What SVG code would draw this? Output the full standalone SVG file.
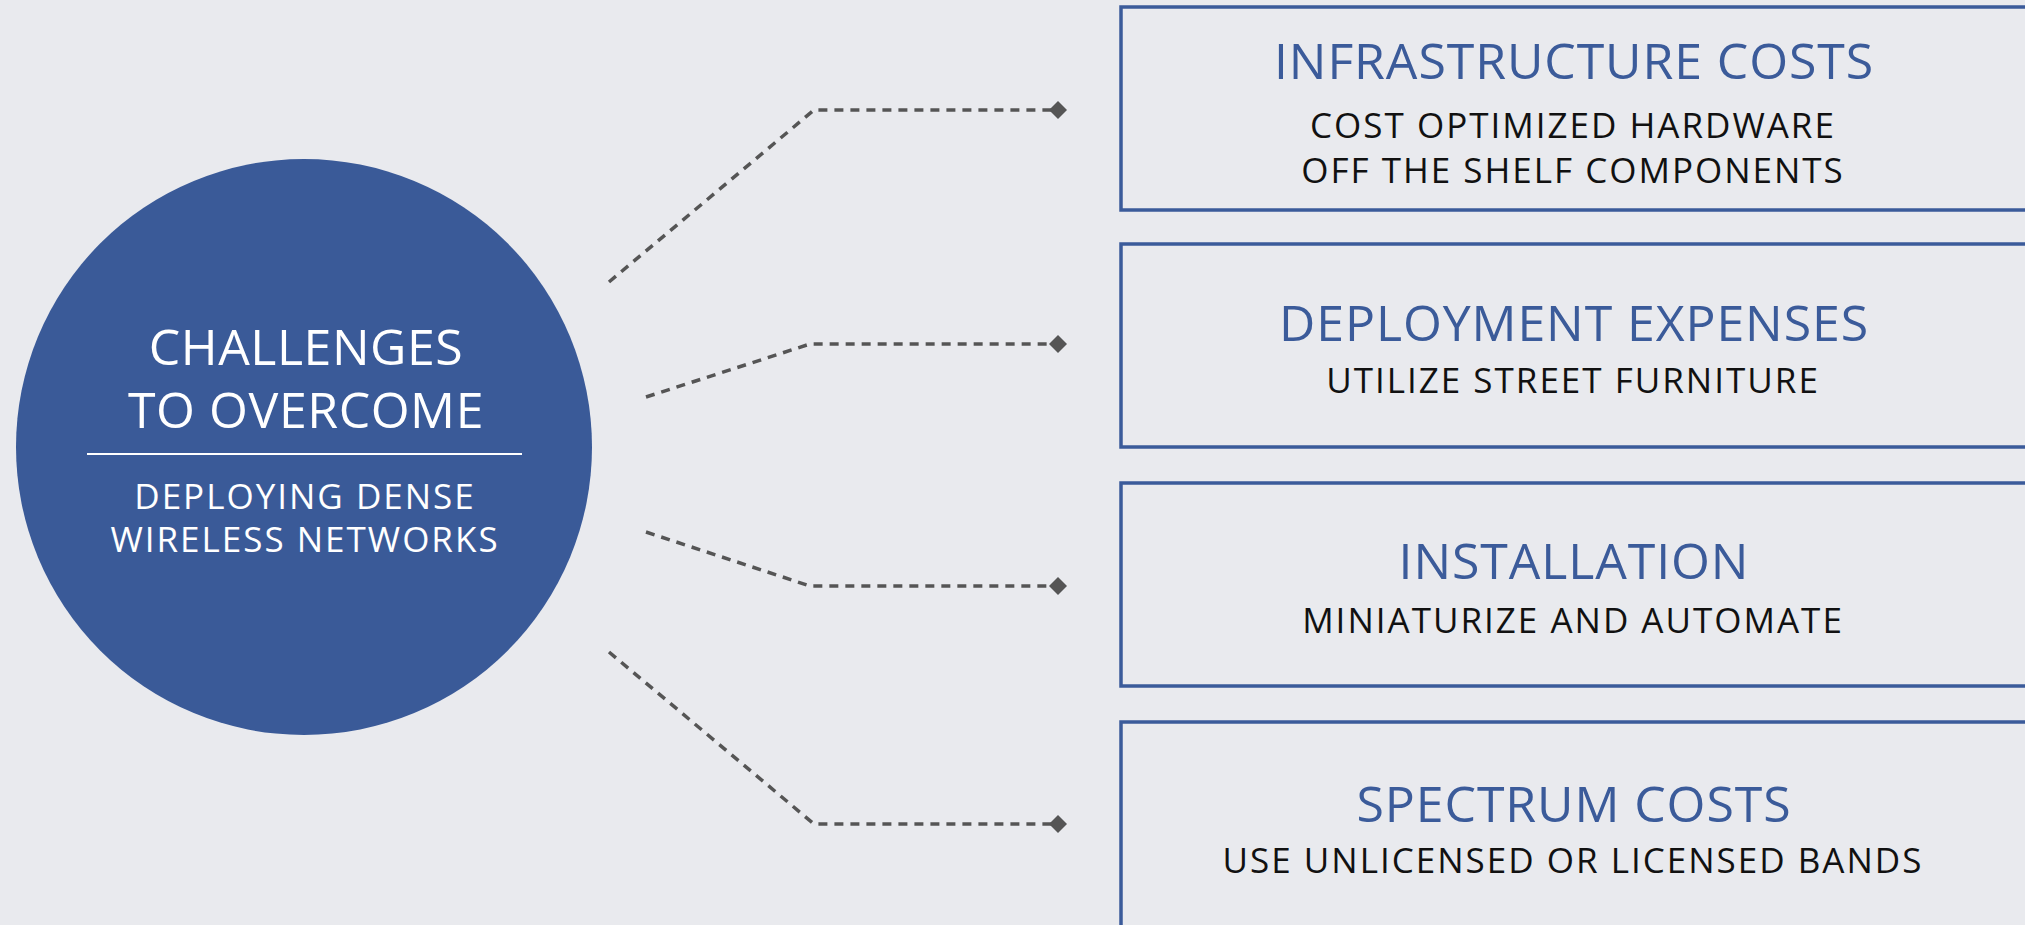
<svg xmlns="http://www.w3.org/2000/svg" width="2025" height="925" viewBox="0 0 2025 925">
<style>
.bg{fill:#E9EAEE}
.box{fill:none;stroke:#3B5B9A;stroke-width:3.5}
.title{font-family:"Open Sans","Noto Sans",sans-serif;font-size:50px;letter-spacing:0.9px;fill:#3B5B9A;text-anchor:middle}
.sub{font-family:"Open Sans","Noto Sans",sans-serif;font-size:35px;letter-spacing:2px;fill:#111;text-anchor:middle}
.ctitle{font-family:"Open Sans","Noto Sans",sans-serif;font-size:50px;letter-spacing:0.55px;fill:#fff;text-anchor:middle}
.csub{font-family:"Open Sans","Noto Sans",sans-serif;font-size:35px;letter-spacing:2px;fill:#fff;text-anchor:middle}
.conn{fill:none;stroke:#555;stroke-width:3.5;stroke-dasharray:9 7;marker-end:url(#dia)}
</style>
<defs>
<marker id="dia" viewBox="-10 -10 20 20" markerWidth="20" markerHeight="20" refX="0" refY="0" orient="auto" markerUnits="userSpaceOnUse">
<path d="M-9 0L0 -9L9 0L0 9Z" fill="#555"/>
</marker>
</defs>
<rect class="bg" x="0" y="0" width="2025" height="925"/>
<g id="connectors">
<path class="conn" d="M609 282L814 110L1058 110"/>
<path class="conn" d="M646 397L810 344L1058 344"/>
<path class="conn" d="M646 532L810 586L1058 586"/>
<path class="conn" d="M609 652L814 824L1058 824"/>
</g>
<g id="center">
<circle cx="304" cy="447" r="288" fill="#3A5A98"/>
<text class="ctitle" x="306" y="365">CHALLENGES</text>
<text class="ctitle" x="306" y="428">TO OVERCOME</text>
<line x1="87" y1="454" x2="522" y2="454" stroke="#fff" stroke-width="2"/>
<text class="csub" x="305" y="509">DEPLOYING DENSE</text>
<text class="csub" x="305" y="552">WIRELESS NETWORKS</text>
</g>
<g id="box-infrastructure">
<rect class="box" x="1121" y="7" width="1000" height="203"/>
<text class="title" x="1574" y="79">INFRASTRUCTURE COSTS</text>
<text class="sub" x="1573" y="138">COST OPTIMIZED HARDWARE</text>
<text class="sub" x="1573" y="183">OFF THE SHELF COMPONENTS</text>
</g>
<g id="box-deployment">
<rect class="box" x="1121" y="244" width="1000" height="203"/>
<text class="title" x="1574" y="341">DEPLOYMENT EXPENSES</text>
<text class="sub" x="1573" y="393">UTILIZE STREET FURNITURE</text>
</g>
<g id="box-installation">
<rect class="box" x="1121" y="483" width="1000" height="203"/>
<text class="title" x="1574" y="579">INSTALLATION</text>
<text class="sub" x="1573" y="633">MINIATURIZE AND AUTOMATE</text>
</g>
<g id="box-spectrum">
<rect class="box" x="1121" y="722" width="1000" height="205"/>
<text class="title" x="1574" y="822">SPECTRUM COSTS</text>
<text class="sub" x="1573" y="873">USE UNLICENSED OR LICENSED BANDS</text>
</g>
</svg>
